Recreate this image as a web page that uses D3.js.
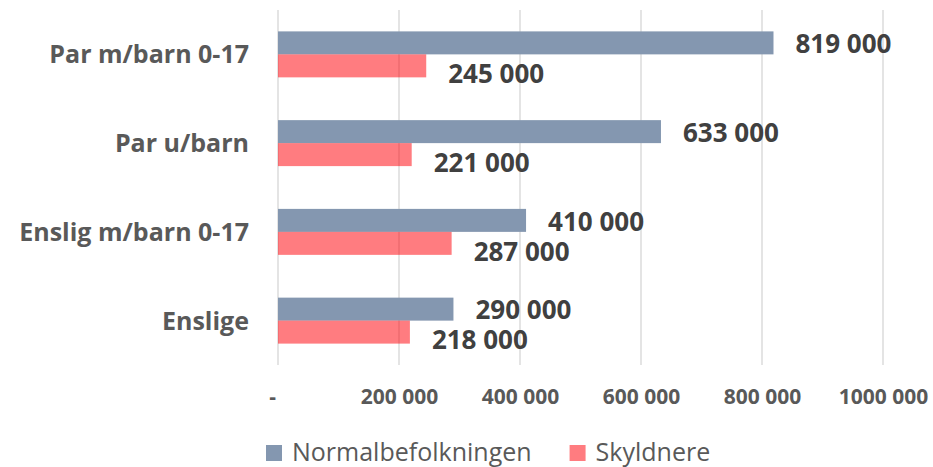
<!DOCTYPE html>
<html>
<head>
<meta charset="utf-8">
<script src="https://cdn.jsdelivr.net/npm/d3@7"></script>
<style>
  html, body { margin: 0; padding: 0; background: #ffffff; }
  svg { display: block; }
  text { font-family: "Open Sans", "DejaVu Sans", sans-serif; }
</style>
</head>
<body>
<svg id="chart" width="933" height="467"></svg>
<script>
// ---- Data ----
const categories = ["Par m/barn 0-17", "Par u/barn", "Enslig m/barn 0-17", "Enslige"];
const seriesNames = ["Normalbefolkningen", "Skyldnere"];
const normalValues = [819000, 633000, 410000, 290000];
const skyldnereValues = [245000, 221000, 287000, 218000];
const tickValues = [0, 200000, 400000, 600000, 800000, 1000000];
const tickLabels = ["-", "200 000", "400 000", "600 000", "800 000", "1000 000"];

// ---- Styles ----
const colors = { "Normalbefolkningen": "#8497B0", "Skyldnere": "#ff0008" };
const opacities = { "Normalbefolkningen": 1, "Skyldnere": 0.515 };
const labelDy = { "Normalbefolkningen": 1, "Skyldnere": 8 };

const seriesValues = { "Normalbefolkningen": normalValues, "Skyldnere": skyldnereValues };
const rows = categories.map((c, i) => ({
  category: c,
  values: seriesNames.map(s => ({ series: s, value: seriesValues[s][i] }))
}));

const svg = d3.select("#chart");
const plot = { left: 278, right: 883, top: 10, bottom: 365 };

const x = d3.scaleLinear().domain([0, 1000000]).range([plot.left, plot.right]);
const y = d3.scaleBand().domain(categories).range([plot.top, plot.bottom])
  .paddingInner(0.482).paddingOuter(0.241);
const ySub = d3.scaleBand().domain(seriesNames).range([0, y.bandwidth()]);

const locale = d3.formatLocale({ decimal: ",", thousands: " ", grouping: [3], currency: ["", ""] });
const fmt = locale.format(",");

// gridlines
svg.append("g").selectAll("line").data(tickValues).join("line")
  .attr("x1", d => x(d)).attr("x2", d => x(d))
  .attr("y1", plot.top).attr("y2", plot.bottom)
  .attr("stroke", "#d9d9d9").attr("stroke-width", 1.4);

// x axis
const xAxis = d3.axisBottom(x).tickValues(tickValues).tickSize(0)
  .tickFormat((d, i) => tickLabels[i]);
const gx = svg.append("g").attr("transform", `translate(0,${plot.bottom})`).call(xAxis);
gx.select(".domain").remove();
gx.selectAll("text")
  .attr("y", 39).attr("dy", 0)
  .attr("dx", (d, i) => i === 0 ? -6 : 0)
  .style("font-family", "'Open Sans', sans-serif")
  .style("font-size", "21px").style("font-weight", "bold").attr("fill", "#595959");

// y axis labels
const yAxis = d3.axisLeft(y).tickSize(0).tickPadding(0);
const gy = svg.append("g").attr("transform", `translate(249,0)`).call(yAxis);
gy.select(".domain").remove();
gy.selectAll("text")
  .attr("x", 0).attr("dy", "0.357em")
  .style("font-family", "'Open Sans', sans-serif")
  .style("font-size", "25px").style("font-weight", "bold").attr("fill", "#595959");

// bars
const groups = svg.append("g").selectAll("g").data(rows).join("g")
  .attr("transform", d => `translate(0,${y(d.category)})`);

groups.selectAll("rect").data(d => d.values).join("rect")
  .attr("x", x(0))
  .attr("y", d => ySub(d.series))
  .attr("width", d => x(d.value) - x(0))
  .attr("height", ySub.bandwidth())
  .attr("fill", d => colors[d.series])
  .attr("fill-opacity", d => opacities[d.series]);

groups.selectAll("text").data(d => d.values).join("text")
  .attr("x", d => x(d.value) + 22)
  .attr("y", d => ySub(d.series) + ySub.bandwidth() / 2 + labelDy[d.series])
  .attr("dy", "0.357em")
  .style("font-size", "26px").style("font-weight", "bold")
  .attr("fill", "#404040")
  .text(d => fmt(d.value));

// legend
const legend = svg.append("g").attr("transform", "translate(266,445)");
let lx = 0;
seriesNames.forEach(s => {
  const g = legend.append("g").attr("transform", `translate(${lx},0)`);
  g.append("rect").attr("width", 16).attr("height", 16)
    .attr("fill", colors[s]).attr("fill-opacity", opacities[s]);
  const t = g.append("text").attr("x", 26).attr("y", 16)
    .style("font-size", "25px").attr("fill", "#595959").text(s);
  lx += 26 + t.node().getComputedTextLength() + 38;
});
</script>
</body>
</html>
